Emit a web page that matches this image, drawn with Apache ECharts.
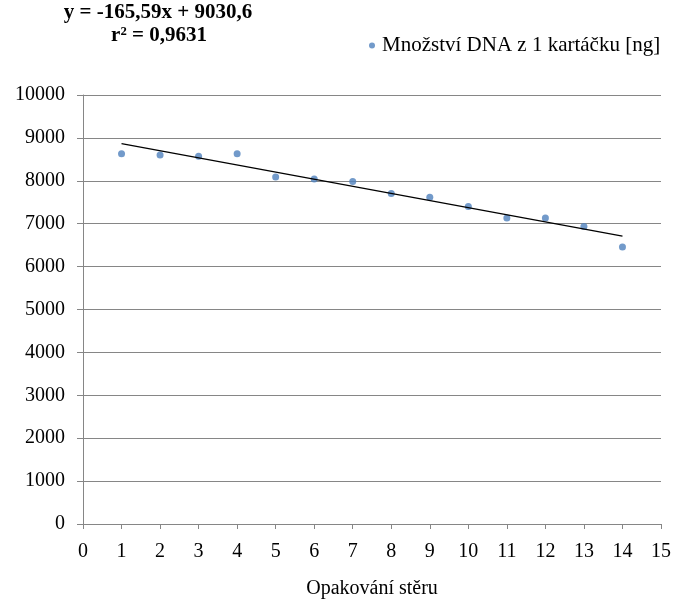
<!DOCTYPE html>
<html>
<head>
<meta charset="utf-8">
<script src="https://cdn.jsdelivr.net/npm/echarts@6/dist/echarts.min.js"></script>
<style>html,body{margin:0;padding:0;background:#fff}#c{width:674px;height:604px}</style>
</head>
<body>
<div id="c"></div>
<script>
var xValues = [1, 2, 3, 4, 5, 6, 7, 8, 9, 10, 11, 12, 13, 14];
var dnaValues = [8630, 8600, 8570, 8630, 8090, 8040, 7985, 7705, 7615, 7400, 7130, 7135, 6935, 6455];
var trendX = [1, 14];
var trendY = [8865, 6712];
var seriesName = 'Množství DNA z 1 kartáčku [ng]';
var equationText = 'y = -165,59x + 9030,6';
var r2Text = 'r² = 0,9631';
var xTitle = 'Opakování stěru';

var FONT = '"Liberation Serif", "Times New Roman", serif';
var chart = echarts.init(document.getElementById('c'));
chart.setOption({
  animation: false,
  backgroundColor: '#fff',
  grid: { left: 83, right: 12, top: 95, bottom: 69, containLabel: false },
  legend: {
    data: [{ name: seriesName, icon: 'circle' }],
    left: 364, top: 30,
    itemWidth: 6, itemHeight: 6, itemGap: 4,
    textStyle: { fontFamily: FONT, fontSize: 21, color: '#000', padding: [0, 0, 0, 2] }
  },
  graphic: [
    { type: 'text', silent: true, style: { x: 158, y: 13, text: equationText, font: 'bold 21px ' + FONT, fill: '#000', align: 'center', verticalAlign: 'middle' } },
    { type: 'text', silent: true, style: { x: 159, y: 36, text: r2Text, font: 'bold 21px ' + FONT, fill: '#000', align: 'center', verticalAlign: 'middle' } }
  ],
  xAxis: {
    type: 'value', min: 0, max: 15, interval: 1,
    name: xTitle, nameLocation: 'middle', nameGap: 55,
    nameTextStyle: { fontFamily: FONT, fontSize: 20, color: '#000' },
    axisLine: { show: true, lineStyle: { color: '#868686', width: 1 } },
    axisTick: { show: true, length: 5, lineStyle: { color: '#868686' } },
    axisLabel: { fontFamily: FONT, fontSize: 20, color: '#000', margin: 18 },
    splitLine: { show: false }
  },
  yAxis: {
    type: 'value', min: 0, max: 10000, interval: 1000,
    axisLine: { show: true, lineStyle: { color: '#868686', width: 1 } },
    axisTick: { show: true, length: 6, lineStyle: { color: '#868686' } },
    axisLabel: { fontFamily: FONT, fontSize: 20, color: '#000', margin: 18, formatter: function (v) { return String(v); } },
    splitLine: { show: true, lineStyle: { color: '#868686', width: 1 } }
  },
  series: [
    {
      name: seriesName, type: 'scatter', symbol: 'circle', symbolSize: 7,
      itemStyle: { color: '#4F81BD' },
      data: xValues.map(function (x, i) { return [x, dnaValues[i]]; }),
      z: 3
    },
    {
      name: 'trend', type: 'line', symbol: 'none', silent: true,
      lineStyle: { color: '#000', width: 1.3 },
      data: trendX.map(function (x, i) { return [x, trendY[i]]; }),
      z: 4
    }
  ]
});
</script>
</body>
</html>
